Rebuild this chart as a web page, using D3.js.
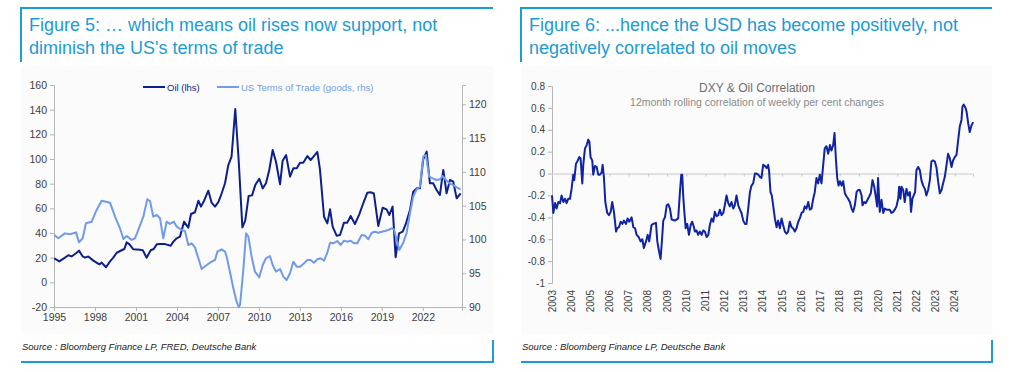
<!DOCTYPE html>
<html>
<head>
<meta charset="utf-8">
<script src="https://cdn.jsdelivr.net/npm/d3@7"></script>
<style>
  body { margin: 0; background: #fff; }
  svg text { font-family: "Liberation Sans", Arial, sans-serif; }
</style>
</head>
<body>
<svg id="chart" width="1024" height="372"></svg>
<script>
// Data
//------------------------------------
// Oil price, quarterly-ish (year, USD)
var oil = [
    [1995.02, 19.5], [1995.39, 17], [1995.8, 20], [1996.05, 22], [1996.29, 21], [1996.66, 24],
    [1996.83, 25.7], [1997.1, 21], [1997.27, 20], [1997.51, 21], [1997.88, 17.6], [1998.32, 14.6],
    [1998.49, 16], [1998.81, 12.2], [1999.1, 17], [1999.34, 20], [1999.59, 24], [1999.95, 26],
    [2000.15, 27], [2000.32, 32.4], [2000.51, 31], [2000.81, 26.8], [2001.3, 26.5], [2001.5, 26],
    [2001.78, 20], [2002.08, 26], [2002.3, 27], [2002.52, 30.8], [2002.76, 31], [2003.13, 31],
    [2003.54, 29.7], [2003.74, 33], [2003.98, 35.7], [2004.22, 37], [2004.52, 49.2], [2004.83, 44.3],
    [2005.03, 55.4], [2005.32, 56.8], [2005.57, 66.2], [2005.76, 61.4], [2005.98, 66], [2006.3, 74.3],
    [2006.54, 64.6], [2006.79, 61.4], [2007.03, 65], [2007.27, 72], [2007.52, 80.3], [2007.76, 95],
    [2008.0, 102], [2008.27, 140.5], [2008.52, 99], [2008.79, 44.6], [2009.0, 50], [2009.25, 70],
    [2009.5, 70.5], [2009.74, 79], [2010.03, 84], [2010.28, 76.2], [2010.52, 80.3], [2010.76, 91.1],
    [2011.01, 107.3], [2011.25, 97.8], [2011.55, 79.5], [2011.74, 98.6], [2011.99, 103.2], [2012.28, 85.7],
    [2012.52, 92.4], [2012.77, 92.4], [2013.01, 97], [2013.25, 97], [2013.55, 102.4], [2013.79, 99.2],
    [2014.03, 102.4], [2014.28, 105.7], [2014.47, 91.6], [2014.77, 53.2], [2015.01, 47.8], [2015.21, 59.2],
    [2015.4, 45.1], [2015.69, 37.8], [2015.94, 38.4], [2016.23, 48.4], [2016.47, 48.4], [2016.72, 53.8],
    [2017.03, 47.3], [2017.35, 55.1], [2017.64, 64.1], [2017.94, 72.7], [2018.18, 73], [2018.42, 72],
    [2018.74, 45.7], [2019.06, 60.5], [2019.35, 59.2], [2019.55, 54.6], [2019.79, 61.4], [2020.01, 20.3],
    [2020.26, 39.7], [2020.53, 41.1], [2020.77, 47.8], [2021.06, 58.6], [2021.3, 73.5], [2021.55, 76.2],
    [2021.79, 76.2], [2022.03, 99.7], [2022.28, 106], [2022.52, 80.3], [2022.76, 80.3], [2023.01, 74.9],
    [2023.25, 70.8], [2023.5, 91.1], [2023.74, 72.2], [2023.99, 83], [2024.23, 81.6], [2024.48, 68.1],
    [2024.77, 72.2]
];

// US terms of trade, goods (year, index)
var termsOfTrade = [
    [1995.02, 100.66], [1995.32, 100.17], [1995.8, 100.9], [1996.17, 100.76], [1996.61, 101.05],
    [1996.83, 99.57], [1997.1, 100.17], [1997.34, 102.39], [1997.76, 102.63], [1998.12, 104.36],
    [1998.49, 105.74], [1998.81, 105.59], [1999.1, 105.44], [1999.47, 103.37], [1999.83, 101.65],
    [2000.08, 100.07], [2000.32, 100.51], [2000.69, 99.92], [2000.93, 100.17], [2001.17, 101.4],
    [2001.54, 103.37], [2001.83, 105.94], [2002.03, 105.69], [2002.27, 103.37], [2002.52, 103.62],
    [2002.76, 103.13], [2003.0, 100.17], [2003.25, 102.63], [2003.49, 102.29], [2003.78, 102.63],
    [2003.98, 101.89], [2004.35, 101.4], [2004.59, 101.25], [2004.83, 99.18], [2005.08, 99.43],
    [2005.32, 98.83], [2005.57, 97.21], [2005.81, 95.63], [2006.18, 96.22], [2006.54, 96.71],
    [2006.79, 96.96], [2006.96, 98.19], [2007.27, 98.54], [2007.52, 98.19], [2007.64, 97.45],
    [2007.88, 95.23], [2008.13, 92.76], [2008.37, 90.79], [2008.52, 90.0], [2008.62, 90.3],
    [2008.86, 95.48], [2009.06, 100.9], [2009.23, 100.41], [2009.47, 97.45], [2009.71, 95.23],
    [2010.03, 94.39], [2010.28, 96.22], [2010.52, 97.21], [2010.81, 97.55], [2011.01, 96.22],
    [2011.25, 95.23], [2011.55, 95.63], [2011.79, 94.49], [2012.03, 94.0], [2012.28, 94.99],
    [2012.52, 96.71], [2012.77, 95.97], [2013.01, 95.97], [2013.25, 96.37], [2013.55, 96.96],
    [2013.79, 96.96], [2014.03, 96.56], [2014.28, 97.06], [2014.52, 97.21], [2014.77, 96.86],
    [2015.01, 98.04], [2015.21, 99.52], [2015.45, 99.43], [2015.74, 99.77], [2015.99, 99.18],
    [2016.23, 99.82], [2016.47, 99.67], [2016.72, 99.82], [2016.96, 99.43], [2017.21, 99.43],
    [2017.52, 100.66], [2017.77, 100.56], [2018.01, 100.02], [2018.26, 101.0], [2018.5, 101.15],
    [2018.74, 101.0], [2018.99, 101.15], [2019.23, 101.25], [2019.47, 101.4], [2019.72, 101.65],
    [2019.89, 101.5], [2020.28, 98.44], [2020.57, 99.52], [2020.81, 100.9], [2021.06, 103.87],
    [2021.3, 106.33], [2021.55, 107.42], [2021.79, 107.81], [2022.03, 112.25], [2022.23, 112.5],
    [2022.47, 109.29], [2022.72, 109.05], [2023.01, 108.8], [2023.25, 108.9], [2023.45, 109.39],
    [2023.7, 108.8], [2023.94, 108.31], [2024.23, 108.06], [2024.48, 107.71], [2024.77, 107.42]
];

// DXY & oil 12m rolling correlation of weekly % changes (year, corr)
var dxyOilCorr = [
    [2003.00, -0.20], [2003.07, -0.36], [2003.16, -0.27], [2003.24, -0.32], [2003.33, -0.26], [2003.42, -0.27],
    [2003.50, -0.20], [2003.59, -0.26], [2003.68, -0.23], [2003.76, -0.27], [2003.85, -0.23], [2003.94, -0.23],
    [2004.02, -0.14], [2004.11, -0.01], [2004.16, -0.06], [2004.25, 0.09], [2004.32, 0.11], [2004.42, 0.15],
    [2004.49, 0.14], [2004.58, -0.09], [2004.63, 0.08], [2004.72, 0.23], [2004.81, 0.26], [2004.89, 0.31],
    [2004.95, 0.29], [2005.01, 0.15], [2005.10, 0.12], [2005.15, -0.01], [2005.24, 0.07], [2005.33, 0.06],
    [2005.41, -0.01], [2005.50, -0.01], [2005.59, 0.01], [2005.64, 0.08], [2005.71, -0.04], [2005.78, -0.26],
    [2005.88, -0.36], [2005.97, -0.38], [2006.06, -0.35], [2006.14, -0.26], [2006.23, -0.35], [2006.34, -0.53],
    [2006.40, -0.50], [2006.49, -0.49], [2006.58, -0.44], [2006.67, -0.46], [2006.75, -0.43], [2006.86, -0.46],
    [2006.94, -0.41], [2007.03, -0.44], [2007.15, -0.40], [2007.24, -0.49], [2007.33, -0.50], [2007.41, -0.56],
    [2007.52, -0.58], [2007.62, -0.62], [2007.71, -0.60], [2007.79, -0.68], [2007.90, -0.62], [2007.99, -0.56],
    [2008.07, -0.62], [2008.19, -0.47], [2008.28, -0.46], [2008.42, -0.45], [2008.49, -0.62], [2008.58, -0.71],
    [2008.66, -0.78], [2008.73, -0.62], [2008.80, -0.43], [2008.89, -0.40], [2008.98, -0.29], [2009.06, -0.28],
    [2009.15, -0.32], [2009.24, -0.42], [2009.41, -0.43], [2009.58, -0.41], [2009.67, -0.17], [2009.74, -0.01],
    [2009.79, -0.01], [2009.84, -0.20], [2009.90, -0.35], [2009.97, -0.50], [2010.05, -0.46], [2010.14, -0.56],
    [2010.23, -0.47], [2010.31, -0.44], [2010.40, -0.49], [2010.45, -0.53], [2010.54, -0.52], [2010.62, -0.56],
    [2010.71, -0.53], [2010.80, -0.56], [2010.88, -0.52], [2010.97, -0.53], [2011.06, -0.58], [2011.15, -0.56],
    [2011.23, -0.47], [2011.32, -0.41], [2011.41, -0.44], [2011.49, -0.35], [2011.58, -0.39], [2011.67, -0.38],
    [2011.75, -0.33], [2011.84, -0.38], [2011.93, -0.36], [2012.01, -0.29], [2012.10, -0.20], [2012.19, -0.27],
    [2012.27, -0.30], [2012.36, -0.26], [2012.45, -0.32], [2012.53, -0.29], [2012.62, -0.20], [2012.71, -0.29],
    [2012.80, -0.33], [2012.88, -0.36], [2012.97, -0.43], [2013.06, -0.46], [2013.14, -0.46], [2013.23, -0.32],
    [2013.32, -0.17], [2013.40, -0.11], [2013.49, -0.09], [2013.58, 0.00], [2013.66, 0.00], [2013.75, -0.01],
    [2013.84, -0.03], [2013.92, -0.04], [2014.01, 0.08], [2014.10, 0.07], [2014.19, 0.05], [2014.27, 0.08],
    [2014.32, 0.02], [2014.39, -0.17], [2014.46, -0.20], [2014.53, -0.29], [2014.62, -0.41], [2014.71, -0.49],
    [2014.79, -0.43], [2014.88, -0.50], [2014.97, -0.41], [2015.05, -0.47], [2015.14, -0.53], [2015.23, -0.55],
    [2015.31, -0.53], [2015.40, -0.44], [2015.49, -0.49], [2015.57, -0.50], [2015.66, -0.53], [2015.75, -0.50],
    [2015.84, -0.44], [2015.92, -0.41], [2016.01, -0.36], [2016.10, -0.35], [2016.18, -0.30], [2016.27, -0.32],
    [2016.36, -0.26], [2016.44, -0.33], [2016.53, -0.32], [2016.62, -0.23], [2016.70, -0.17], [2016.79, -0.04],
    [2016.88, -0.09], [2016.96, -0.01], [2017.05, -0.09], [2017.14, 0.08], [2017.22, 0.23], [2017.31, 0.25],
    [2017.40, 0.18], [2017.49, 0.26], [2017.57, 0.21], [2017.66, 0.26], [2017.73, 0.37], [2017.80, 0.14],
    [2017.87, -0.04], [2017.94, -0.11], [2018.01, -0.07], [2018.10, -0.11], [2018.18, -0.07], [2018.27, -0.18],
    [2018.36, -0.21], [2018.44, -0.23], [2018.53, -0.26], [2018.62, -0.32], [2018.70, -0.35], [2018.79, -0.29],
    [2018.88, -0.17], [2018.96, -0.15], [2019.05, -0.15], [2019.14, -0.20], [2019.19, -0.29], [2019.28, -0.26],
    [2019.36, -0.27], [2019.45, -0.24], [2019.54, -0.21], [2019.62, -0.18], [2019.71, -0.06], [2019.80, -0.12],
    [2019.88, -0.21], [2019.95, -0.30], [2020.00, -0.04], [2020.09, -0.35], [2020.18, -0.24], [2020.27, -0.36],
    [2020.35, -0.32], [2020.44, -0.33], [2020.53, -0.33], [2020.61, -0.33], [2020.70, -0.36], [2020.79, -0.35],
    [2020.87, -0.33], [2020.96, -0.30], [2021.05, -0.23], [2021.10, -0.12], [2021.17, -0.23], [2021.22, -0.12],
    [2021.31, -0.15], [2021.39, -0.26], [2021.48, -0.14], [2021.57, -0.20], [2021.66, -0.17], [2021.72, -0.35],
    [2021.79, -0.23], [2021.86, -0.20], [2021.93, -0.17], [2022.00, 0.03], [2022.09, 0.06], [2022.18, 0.03],
    [2022.26, -0.06], [2022.35, -0.11], [2022.44, -0.14], [2022.52, -0.20], [2022.61, -0.15], [2022.70, -0.06],
    [2022.78, 0.11], [2022.87, 0.12], [2022.96, 0.11], [2023.05, 0.05], [2023.13, -0.07], [2023.22, -0.18],
    [2023.31, -0.15], [2023.39, -0.09], [2023.48, -0.03], [2023.57, 0.08], [2023.65, 0.18], [2023.74, 0.14],
    [2023.83, 0.06], [2023.91, 0.12], [2024.00, 0.15], [2024.09, 0.17], [2024.18, 0.31], [2024.26, 0.43],
    [2024.35, 0.49], [2024.40, 0.61], [2024.47, 0.63], [2024.56, 0.60], [2024.61, 0.57], [2024.70, 0.46],
    [2024.78, 0.38], [2024.87, 0.44], [2024.96, 0.47]
];

// Tick values
var leftYearTicks = [1995, 1998, 2001, 2004, 2007, 2010, 2013, 2016, 2019, 2022];
var oilTicks = [-20, 0, 20, 40, 60, 80, 100, 120, 140, 160];
var totTicks = [90, 95, 100, 105, 110, 115, 120];
var corrTicks = [-1, -0.8, -0.6, -0.4, -0.2, 0, 0.2, 0.4, 0.6, 0.8];
var corrYearTicks = [2003, 2004, 2005, 2006, 2007, 2008, 2009, 2010, 2011, 2012, 2013,
                     2014, 2015, 2016, 2017, 2018, 2019, 2020, 2021, 2022, 2023, 2024];

// Colours
var frameBlue = "#1b9bd7";
var oilColor = "#0d1f8c";
var totColor = "#6f9be9";
var corrColor = "#1023a3";
var axisColor = "#b5b5b5";
var labelColor = "#404040";

var svg = d3.select("#chart");

//--------------------------------------
// Frame around each figure: title, source and blue rules
function drawFrame(x0, x1, titleLines, source) {
    var g = svg.append("g");
    g.append("rect").attr("x", x0).attr("y", 66).attr("width", x1 - x0).attr("height", 268)
        .attr("fill", "#fbfbfb");
    g.append("line").attr("x1", x0 - 1).attr("x2", x1).attr("y1", 8).attr("y2", 8)
        .attr("stroke", frameBlue).attr("stroke-width", 2);
    g.append("line").attr("x1", x0).attr("x2", x0).attr("y1", 7).attr("y2", 62)
        .attr("stroke", frameBlue).attr("stroke-width", 2);
    g.append("line").attr("x1", x0).attr("x2", x1 + 1).attr("y1", 362).attr("y2", 362)
        .attr("stroke", frameBlue).attr("stroke-width", 2);
    g.append("line").attr("x1", x1).attr("x2", x1).attr("y1", 340).attr("y2", 363)
        .attr("stroke", frameBlue).attr("stroke-width", 2);
    titleLines.forEach(function (t, i) {
        g.append("text").attr("x", x0 + 8).attr("y", 31 + i * 23)
            .attr("font-size", 18).attr("fill", frameBlue).text(t);
    });
    g.append("text").attr("x", x0 + 1).attr("y", 350)
        .attr("font-size", 9.5).attr("font-style", "italic").attr("fill", "#222").text(source);
}

function styleAxis(g) {
    g.select(".domain").attr("stroke", axisColor);
    g.selectAll(".tick line").attr("stroke", axisColor);
    g.selectAll(".tick text").attr("fill", labelColor)
        .attr("font-family", "Liberation Sans, Arial, sans-serif");
}

drawFrame(21, 493, ["Figure 5: \u2026 which means oil rises now support, not", "diminish the US's terms of trade"],
    "Source : Bloomberg Finance LP, FRED, Deutsche Bank");
drawFrame(521, 992, ["Figure 6: ...hence the USD has become positively, not", "negatively correlated to oil moves"],
    "Source : Bloomberg Finance LP, Deutsche Bank");

//--------------------------------------
// Figure 5: oil vs US terms of trade
var xLeft = d3.scaleLinear().domain([1995, 2024.87]).range([54, 462]);
var yOil = d3.scaleLinear().domain([-20, 160]).range([307, 85]);
var yTot = d3.scaleLinear().domain([90, 122.86]).range([307, 85]);

svg.append("g").attr("transform", "translate(54,0)")
    .call(d3.axisLeft(yOil).tickValues(oilTicks).tickSize(4).tickPadding(3).tickFormat(function (d) { return String(d); }))
    .attr("font-size", 10.5).call(styleAxis);
svg.append("g").attr("transform", "translate(462,0)")
    .call(d3.axisRight(yTot).tickValues(totTicks).tickSize(4).tickPadding(3).tickFormat(function (d) { return String(d); }))
    .attr("font-size", 10.5).call(styleAxis);
svg.append("g").attr("transform", "translate(0,307)")
    .call(d3.axisBottom(xLeft).tickValues(leftYearTicks).tickSize(4).tickPadding(3).tickFormat(d3.format("d")))
    .attr("font-size", 10.5).call(styleAxis);

var oilLine = d3.line().x(function (d) { return xLeft(d[0]); }).y(function (d) { return yOil(d[1]); });
var totLine = d3.line().x(function (d) { return xLeft(d[0]); }).y(function (d) { return yTot(d[1]); });

svg.append("path").datum(oil).attr("d", oilLine)
    .attr("fill", "none").attr("stroke", oilColor).attr("stroke-width", 2).attr("stroke-linejoin", "round");
svg.append("path").datum(termsOfTrade).attr("d", totLine)
    .attr("fill", "none").attr("stroke", totColor).attr("stroke-width", 2).attr("stroke-linejoin", "round");

// legend
var legend = [
    { name: "Oil (lhs)", color: oilColor, x: 143 },
    { name: "US Terms of Trade (goods, rhs)", color: totColor, x: 217 }
];
legend.forEach(function (l) {
    svg.append("line").attr("x1", l.x).attr("x2", l.x + 22).attr("y1", 87).attr("y2", 87)
        .attr("stroke", l.color).attr("stroke-width", 2);
    svg.append("text").attr("x", l.x + 24).attr("y", 90.5).attr("font-size", 9.5)
        .attr("fill", l.color).text(l.name);
});

//--------------------------------------
// Figure 6: DXY & oil correlation
var xCorr = d3.scaleLinear().domain([2003, 2024.95]).range([552, 973]);
var yCorr = d3.scaleLinear().domain([-1, 0.8]).range([283, 86]);

svg.append("g").attr("transform", "translate(552,0)")
    .call(d3.axisLeft(yCorr).tickValues(corrTicks).tickSize(4).tickPadding(3)
        .tickFormat(function (d) { return String(+d.toFixed(1)); }))
    .attr("font-size", 10).call(styleAxis);

// zero line with the year ticks hanging from it
var zeroAxis = svg.append("g").attr("transform", "translate(0," + yCorr(0) + ")")
    .call(d3.axisBottom(xCorr).tickValues(corrYearTicks).tickSize(3).tickFormat(""));
zeroAxis.select(".domain").attr("stroke", "#c8c8c8");
zeroAxis.selectAll(".tick line").attr("stroke", "#c8c8c8");

svg.append("g").selectAll("text").data(corrYearTicks).enter().append("text")
    .attr("transform", function (d) { return "translate(" + (xCorr(d) + 3.5) + ",290) rotate(-90)"; })
    .attr("text-anchor", "end").attr("font-size", 10).attr("fill", labelColor)
    .text(function (d) { return d; });

var corrLine = d3.line().x(function (d) { return xCorr(d[0]); }).y(function (d) { return yCorr(d[1]); });
svg.append("path").datum(dxyOilCorr).attr("d", corrLine)
    .attr("fill", "none").attr("stroke", corrColor).attr("stroke-width", 2).attr("stroke-linejoin", "round");

svg.append("text").attr("x", 757).attr("y", 92).attr("text-anchor", "middle")
    .attr("font-size", 12).attr("fill", "#6e6e6e").text("DXY & Oil Correlation");
svg.append("text").attr("x", 757).attr("y", 106).attr("text-anchor", "middle")
    .attr("font-size", 10.5).attr("fill", "#8a8a8a").text("12month rolling correlation of weekly per cent changes");
</script>
</body>
</html>
